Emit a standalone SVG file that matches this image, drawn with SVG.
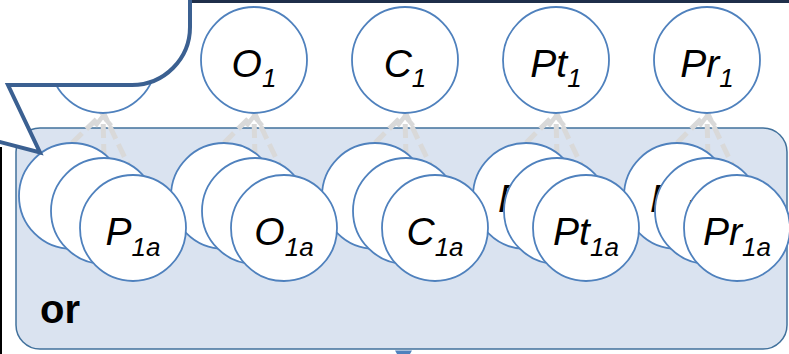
<svg xmlns="http://www.w3.org/2000/svg" width="789" height="354" viewBox="0 0 789 354">
<defs>
<style>
.nd{fill:#ffffff;stroke:#4f81bd;stroke-width:1.8}
.lb{font-family:"Liberation Sans",Arial,sans-serif;font-style:italic;font-size:39px;fill:#000}
.sb{font-size:26px}
.cn{stroke:#d9d9d9;stroke-width:5;stroke-dasharray:14 6;fill:none}
</style>
<marker id="chev" markerUnits="userSpaceOnUse" viewBox="-14 -12 18 24" markerWidth="18" markerHeight="24" refX="0" refY="0" orient="auto" overflow="visible">
<path d="M-10,-8 L0,0 L-10,8" fill="none" stroke="#d9d9d9" stroke-width="4.5"/>
</marker>
</defs>
<rect width="789" height="354" fill="#ffffff"/>
<g id="frame">
<line x1="190" y1="1.5" x2="789" y2="1.5" stroke="#1f2f4a" stroke-width="3"/>
<line x1="1" y1="147" x2="1" y2="354" stroke="#000" stroke-width="2"/>
</g>
<g id="or-box">
<rect x="16" y="128" width="771" height="221" rx="24" ry="24" fill="#dae3f0" stroke="#41719c" stroke-width="1.5"/>
<text x="40" y="323" font-family="'Liberation Sans',Arial,sans-serif" font-weight="bold" font-size="40" fill="#000">or</text>
</g>
<polygon points="395,350.5 412,350.5 410,354 397,354" fill="#4f81bd"/>
<g id="connectors">
<line class="cn" x1="72" y1="143" x2="102" y2="114"/>
<line class="cn" x1="104" y1="158" x2="103" y2="116" marker-end="url(#chev)"/>
<line class="cn" x1="133" y1="175" x2="104" y2="114"/>
<line class="cn" x1="224" y1="143" x2="253" y2="114"/>
<line class="cn" x1="255" y1="158" x2="254" y2="116" marker-end="url(#chev)"/>
<line class="cn" x1="284" y1="175" x2="255" y2="114"/>
<line class="cn" x1="375" y1="143" x2="404" y2="114"/>
<line class="cn" x1="406" y1="158" x2="405" y2="116" marker-end="url(#chev)"/>
<line class="cn" x1="435" y1="175" x2="406" y2="114"/>
<line class="cn" x1="526" y1="143" x2="555" y2="114"/>
<line class="cn" x1="557" y1="158" x2="556" y2="116" marker-end="url(#chev)"/>
<line class="cn" x1="586" y1="175" x2="557" y2="114"/>
<line class="cn" x1="677" y1="143" x2="706" y2="114"/>
<line class="cn" x1="708" y1="158" x2="707" y2="116" marker-end="url(#chev)"/>
<line class="cn" x1="737" y1="175" x2="708" y2="114"/>
</g>
<g id="P1"><circle class="nd" cx="103" cy="60" r="53"/></g>
<g id="O1"><circle class="nd" cx="254" cy="60" r="53"/><text class="lb" x="254" y="76.5" text-anchor="middle">O<tspan class="sb" dy="10.5">1</tspan></text></g>
<g id="C1"><circle class="nd" cx="405" cy="60" r="53"/><text class="lb" x="405" y="76.5" text-anchor="middle">C<tspan class="sb" dy="10.5">1</tspan></text></g>
<g id="Pt1"><circle class="nd" cx="556" cy="60" r="53"/><text class="lb" x="556" y="76.5" text-anchor="middle">Pt<tspan class="sb" dy="10.5">1</tspan></text></g>
<g id="Pr1"><circle class="nd" cx="707" cy="60" r="53"/><text class="lb" x="707" y="76.5" text-anchor="middle">Pr<tspan class="sb" dy="10.5">1</tspan></text></g>
<g id="P1c"><circle class="nd" cx="72" cy="196" r="53"/></g>
<g id="O1c"><circle class="nd" cx="224" cy="196" r="53"/></g>
<g id="C1c"><circle class="nd" cx="375" cy="196" r="53"/></g>
<g id="Pt1c"><circle class="nd" cx="526" cy="196" r="53"/><text class="lb" x="498" y="212">P</text></g>
<g id="Pr1c"><circle class="nd" cx="677" cy="196" r="53"/><text class="lb" x="650" y="212">P</text></g>
<g id="P1b"><circle class="nd" cx="104" cy="211" r="53"/></g>
<g id="O1b"><circle class="nd" cx="255" cy="211" r="53"/></g>
<g id="C1b"><circle class="nd" cx="406" cy="211" r="53"/></g>
<g id="Pt1b"><circle class="nd" cx="557" cy="211" r="53"/><text class="lb" x="534" y="227">P</text></g>
<g id="Pr1b"><circle class="nd" cx="708" cy="211" r="53"/><text class="lb" x="684" y="227">P</text></g>
<g id="P1a"><circle class="nd" cx="133" cy="228" r="53"/><text class="lb" x="133" y="245" text-anchor="middle">P<tspan class="sb" dy="10.5">1a</tspan></text></g>
<g id="O1a"><circle class="nd" cx="284" cy="228" r="53"/><text class="lb" x="284" y="245" text-anchor="middle">O<tspan class="sb" dy="10.5">1a</tspan></text></g>
<g id="C1a"><circle class="nd" cx="435" cy="228" r="53"/><text class="lb" x="435" y="245" text-anchor="middle">C<tspan class="sb" dy="10.5">1a</tspan></text></g>
<g id="Pt1a"><circle class="nd" cx="586" cy="228" r="53"/><text class="lb" x="586" y="245" text-anchor="middle">Pt<tspan class="sb" dy="10.5">1a</tspan></text></g>
<g id="Pr1a"><circle class="nd" cx="737" cy="228" r="53"/><text class="lb" x="737" y="245" text-anchor="middle">Pr<tspan class="sb" dy="10.5">1a</tspan></text></g>
<g id="callout">
<path d="M-10,-10 L190,-10 L190,27 A58,58 0 0 1 132,85 L8,85 L40,152.5 L-2,141.5 Z" fill="#ffffff" stroke="#3b6091" stroke-width="4" stroke-linejoin="miter"/>
</g>
</svg>
